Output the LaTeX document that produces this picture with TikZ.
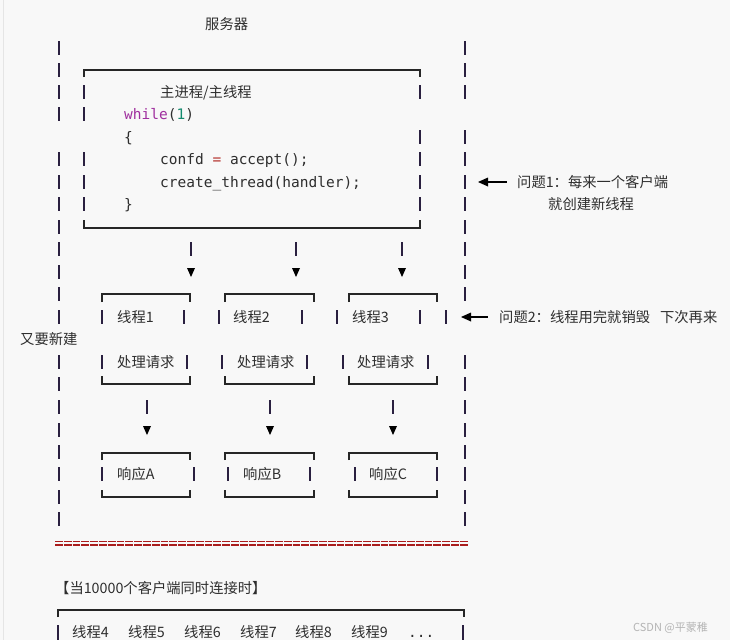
\documentclass[tikz,border=0pt]{standalone}
\usepackage{fontspec}
\setmainfont{Noto Sans CJK SC}
\newfontfamily\codefont{DejaVu Sans Mono}
\definecolor{bg}{HTML}{F8F8F8}
\definecolor{txt}{HTML}{2E2E2E}
\definecolor{barc}{HTML}{2A2040}
\definecolor{kw}{HTML}{A0309F}
\definecolor{num}{HTML}{148A6E}
\definecolor{op}{HTML}{B5332E}
\definecolor{eqc}{HTML}{AA1D1D}
\definecolor{wm}{HTML}{B4B4B4}
\tikzset{
  t/.style={anchor=base west, inner sep=0pt, text=txt, font=\fontsize{14.3}{16}\selectfont},
  code/.style={anchor=base west, inner sep=0pt, text=txt, font=\codefont\fontsize{14.5}{16}\selectfont},
  barline/.style={draw=barc, line width=1.4pt},
  boxline/.style={draw=black!85, line width=1.5pt},
  tri/.style={fill=black, draw=none},
}
\begin{document}
\begin{tikzpicture}[x=1pt,y=-1pt]
\fill[bg] (0,0) rectangle (730,640);
\useasboundingbox (0,0) rectangle (730,640);
\draw[black!10, line width=1pt] (3.5,0) -- (3.5,640);

% outer vertical bars
\foreach \y in {48,70,92,114,159,182,204,227,249,272,294,317,362,384,407,430,452,474,497,519}
  \draw[barline] (59,\y-7) -- (59,\y+7);
\foreach \y in {48,70,92,137,159,182,204,227,249,272,294,362,384,407,430,452,474,497,519}
  \draw[barline] (465,\y-7) -- (465,\y+7);

% main box
\draw[boxline] (84,77) -- (84,70) -- (420,70) -- (420,77);
\draw[boxline] (84,220) -- (84,228) -- (420,228) -- (420,220);
\foreach \y in {92,114,159,182,204} \draw[barline] (84,\y-7) -- (84,\y+7);
\foreach \y in {92,137,159,182,204} \draw[barline] (420,\y-7) -- (420,\y+7);

% title
\node[t] (title) at (205,29) {服务器};
\node[t] (mainp) at (160,97) {主进程/主线程};
\node[code] (wh) at (124,119) {\textcolor{kw}{while}(\textcolor{num}{1})};
\node[code] (lb) at (124,142) {\{};
\node[code] (acc) at (160,164) {confd \textcolor{op}{=} accept();};
\node[code] (ct) at (160,187) {create\_thread(handler);};
\node[code] (rb) at (124,209) {\}};

% arrows to threads
\foreach \x in {191,296,402} {
  \draw[barline] (\x,242) -- (\x,256);
  \fill[tri] (\x-4,268) -- (\x+4,268) -- (\x,277) -- cycle;
}

% thread boxes
\foreach \a/\b in {102/190,225/314,349/437} {
  \draw[boxline] (\a,302) -- (\a,294) -- (\b,294) -- (\b,302);
  \draw[boxline] (\a,376) -- (\a,384) -- (\b,384) -- (\b,376);
}
\foreach \x in {102,184,219,302,337,420,446} \draw[barline] (\x,310) -- (\x,324);
\foreach \x in {102,187,222,307,343,428} \draw[barline] (\x,355) -- (\x,369);
\node[t] (th1) at (117,322) {线程1};
\node[t] (th2) at (233,322) {线程2};
\node[t] (th3) at (352,322) {线程3};
\node[t] (pr1) at (117,367) {处理请求};
\node[t] (pr2) at (237,367) {处理请求};
\node[t] (pr3) at (357,367) {处理请求};
\node[t] (again) at (20,344) {又要新建};

% arrows to responses
\foreach \x in {147,270,393} {
  \draw[barline] (\x,400) -- (\x,414);
  \fill[tri] (\x-4,426) -- (\x+4,426) -- (\x,435) -- cycle;
}

% response boxes
\foreach \a/\b in {102/190,225/314,349/437} {
  \draw[boxline] (\a,460) -- (\a,453) -- (\b,453) -- (\b,460);
  \draw[boxline] (\a,490) -- (\a,497) -- (\b,497) -- (\b,490);
}
\foreach \x in {102,194,228,310,355,437} \draw[barline] (\x,467) -- (\x,481);
\node[t] (r1) at (117,479) {响应A};
\node[t] (r2) at (243,479) {响应B};
\node[t] (r3) at (369,479) {响应C};

% problem annotations
\fill[tri] (478,182) -- (488,177.5) -- (488,186.5) -- cycle;
\draw[black, line width=1.3pt] (487,182) -- (507,182);
\node[t] (q1) at (517,187) {问题1：每来一个客户端};
\node[t] (q1b) at (548,209) {就创建新线程};
\fill[tri] (461,317) -- (471,312.5) -- (471,321.5) -- cycle;
\draw[black, line width=1.3pt] (470,317) -- (488,317);
\node[t] (q2) at (499,322) {问题2：线程用完就销毁\hspace{0.7em}下次再来};

% double line
\draw[eqc, line width=1.5pt, dash pattern=on 7.8pt off 1pt] (55,541.5) -- (468,541.5);
\draw[eqc, line width=1.5pt, dash pattern=on 7.8pt off 1pt] (55,545) -- (468,545);

% bottom section
\node[t] (many) at (55,593) {【当10000个客户端同时连接时】};
\draw[boxline] (58,617) -- (58,610) -- (464,610) -- (464,617);
\draw[barline] (58,625) -- (58,640);
\draw[barline] (463,625) -- (463,640);
\node[t] (t4) at (72,637) {线程4};
\node[t] (t5) at (128,637) {线程5};
\node[t] (t6) at (184,637) {线程6};
\node[t] (t7) at (240,637) {线程7};
\node[t] (t8) at (295,637) {线程8};
\node[t] (t9) at (351,637) {线程9};
\node[code] (dots) at (408,637) {...};

\node[anchor=base west, inner sep=0pt, text=wm, font=\fontsize{11}{12}\selectfont] (wmk) at (633,631) {CSDN @平蒙稚};
\end{tikzpicture}
\end{document}
